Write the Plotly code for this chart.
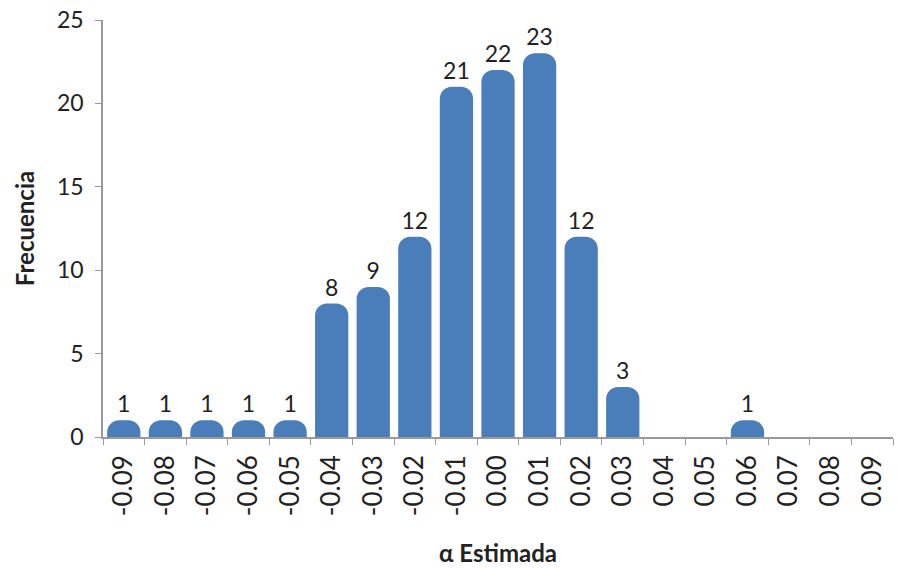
import plotly.graph_objects as go

# Histogram of estimated alpha values
categories = ["-0.09", "-0.08", "-0.07", "-0.06", "-0.05", "-0.04", "-0.03", "-0.02",
              "-0.01", "0.00", "0.01", "0.02", "0.03", "0.04", "0.05", "0.06",
              "0.07", "0.08", "0.09"]
frequencies = [1, 1, 1, 1, 1, 8, 9, 12, 21, 22, 23, 12, 3, 0, 0, 1, 0, 0, 0]
y_ticks = [0, 5, 10, 15, 20, 25]

labels = [str(v) if v > 0 else "" for v in frequencies]

font_family = "Lato, 'Noto Sans', sans-serif"
axis_grey = "#9a9a9a"

fig = go.Figure(
    go.Bar(
        x=categories,
        y=frequencies,
        text=labels,
        textposition="outside",
        cliponaxis=False,
        textfont=dict(family=font_family, size=23, color="#222222"),
        marker=dict(color="#4a7ebb", cornerradius=12, line=dict(width=0)),
    )
)

fig.update_layout(
    width=897,
    height=568,
    margin=dict(l=103, r=4, t=20, b=131),
    paper_bgcolor="white",
    plot_bgcolor="white",
    bargap=0.2,
    showlegend=False,
    font=dict(family=font_family, size=22, color="#222222"),
)

fig.update_xaxes(
    type="category",
    tickangle=-90,
    showline=True,
    linecolor=axis_grey,
    linewidth=1.5,
    ticks="outside",
    tickson="boundaries",
    ticklen=6,
    tickcolor=axis_grey,
    ticklabelstandoff=6,
    showgrid=False,
    tickfont=dict(size=26),
    title=dict(text="α Estimada", font=dict(size=24, family=font_family, weight="bold"), standoff=30),
)

fig.update_yaxes(
    range=[0, 25],
    tickvals=y_ticks,
    showline=True,
    linecolor=axis_grey,
    linewidth=1.5,
    ticks="outside",
    ticklen=6,
    tickcolor=axis_grey,
    ticklabelstandoff=7,
    showgrid=False,
    zeroline=False,
    tickfont=dict(size=23),
    title=dict(text="Frecuencia", font=dict(size=24, family=font_family, weight="bold"), standoff=16),
)

fig.write_html("out.html")
